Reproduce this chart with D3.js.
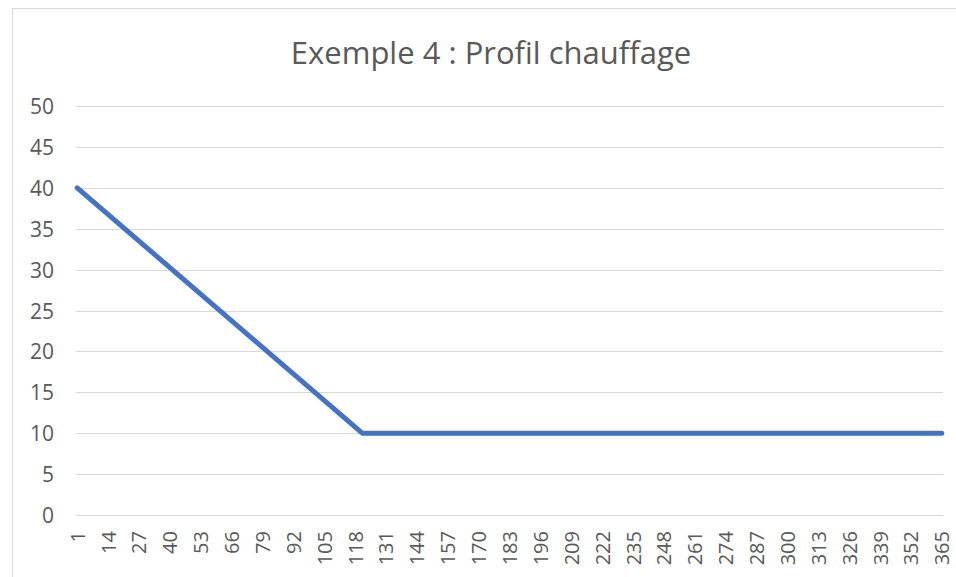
<!DOCTYPE html>
<html>
<head>
<meta charset="utf-8">
<script src="https://cdn.jsdelivr.net/npm/d3@7"></script>
<style>
    body { margin: 0; background: #fff; }
    text { font-family: "Open Sans", "Liberation Sans", sans-serif; fill: #595959; }
</style>
</head>
<body>
<div id="chart"></div>
<script>
// values
const days = [1, 121, 365];
const heating = [40, 10, 10];
const dayCount = 365;
const xTickLabels = [1, 14, 27, 40, 53, 66, 79, 92, 105, 118, 131, 144, 157, 170, 183,
    196, 209, 222, 235, 248, 261, 274, 287, 300, 313, 326, 339, 352, 365];
const yTicks = [0, 5, 10, 15, 20, 25, 30, 35, 40, 45, 50];
const title = "Exemple 4 : Profil chauffage";

const width = 956, height = 577;
const margin = { top: 106, right: 13, bottom: 62, left: 76 };

const svg = d3.select("#chart").append("svg")
    .attr("width", width)
    .attr("height", height);

// chart frame
svg.append("rect")
    .attr("x", 12.5).attr("y", 8.5)
    .attr("width", width).attr("height", height)
    .attr("fill", "none")
    .attr("stroke", "#d9d9d9");

// categories sit between tick marks, like an Excel line chart
const x = d3.scaleLinear()
    .domain([0.5, dayCount + 0.5])
    .range([margin.left, width - margin.right]);

const y = d3.scaleLinear()
    .domain([0, 50])
    .range([height - margin.bottom, margin.top]);

// gridlines
svg.append("g")
    .selectAll("line")
    .data(yTicks)
    .join("line")
    .attr("x1", margin.left)
    .attr("x2", width - margin.right)
    .attr("y1", d => Math.round(y(d)) + 0.5)
    .attr("y2", d => Math.round(y(d)) + 0.5)
    .attr("stroke", "#d9d9d9")
    .attr("stroke-width", 1);

// y labels
svg.append("g")
    .selectAll("text")
    .data(yTicks)
    .join("text")
    .attr("x", 54)
    .attr("y", d => y(d))
    .attr("text-anchor", "end")
    .attr("dominant-baseline", "central")
    .style("font-size", "21px")
    .text(d => d);

// x labels, rotated
svg.append("g")
    .selectAll("text")
    .data(xTickLabels)
    .join("text")
    .attr("transform", d => `translate(${x(d)},${height - margin.bottom + 16}) rotate(-90)`)
    .attr("text-anchor", "end")
    .attr("dominant-baseline", "central")
    .style("font-size", "20px")
    .text(d => d);

// the heating profile
const line = d3.line()
    .x(d => x(d[0]))
    .y(d => y(d[1]));

svg.append("path")
    .datum(d3.zip(days, heating))
    .attr("fill", "none")
    .attr("stroke", "#4472c4")
    .attr("stroke-width", 5)
    .attr("stroke-linecap", "round")
    .attr("stroke-linejoin", "round")
    .attr("d", line);

// title
svg.append("text")
    .attr("x", 491)
    .attr("y", 64)
    .attr("text-anchor", "middle")
    .style("font-size", "31px")
    .text(title);
</script>
</body>
</html>
